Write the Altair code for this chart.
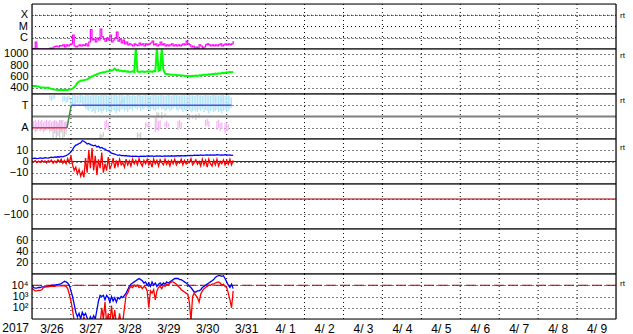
import altair as alt
import pandas as pd

FONT = "Liberation Sans"
W, H = 584, 45

# ---- time axis (hours since 2017-03-26 00:00) ----
DAY_TICKS = [0, 24, 48, 72, 96, 120, 144, 168, 192, 216, 240, 264, 288, 312, 336]
DAY_LABELS = ["3/26", "3/27", "3/28", "3/29", "3/30", "3/31", "4/ 1", "4/ 2",
              "4/ 3", "4/ 4", "4/ 5", "4/ 6", "4/ 7", "4/ 8", "4/ 9"]
YEAR_LABEL = "2017"
HOURS = list(range(125))

# ---- panel 1: X-ray flux (W/m2) ----
XRAY = [1.1e-7, 1.1e-7, 4.2e-7, 1.1e-7, 1.0e-7, 1.0e-7, 1.0e-7, 1.0e-7, 1.0e-7, 1.0e-7,
        1.0e-7, 1.2e-7, 1.0e-7, 1.5e-7, 1.7e-7, 1.85e-7, 1.5e-7, 2.0e-7, 1.85e-7, 2.3e-7,
        1.5e-7, 2.3e-7, 1.85e-7, 2.3e-7, 2.8e-7, 1.75e-6, 1.85e-7, 1.5e-7, 1.85e-7, 2.3e-7,
        1.85e-7, 2.3e-7, 2.0e-7, 2.8e-7, 1.85e-7, 4.2e-7, 5.4e-6, 6.3e-7, 7.7e-7, 4.2e-7,
        9.5e-7, 6.3e-7, 6.0e-6, 1.2e-6, 7.7e-7, 5.1e-7, 9.5e-7, 6.3e-7, 1.75e-6, 4.2e-7,
        6.3e-7, 9.5e-7, 3.2e-6, 5.1e-7, 7.7e-7, 3.4e-7, 6.3e-7, 2.8e-7, 4.2e-7, 2.3e-7,
        2.8e-7, 2.3e-7, 1.85e-7, 2.8e-7, 2.3e-7, 2.0e-7, 3.4e-7, 2.3e-7, 2.8e-7, 1.85e-7,
        2.8e-7, 2.3e-7, 2.8e-7, 3.4e-7, 5.1e-7, 2.3e-7, 2.8e-7, 1.85e-7, 2.3e-7, 4.2e-7,
        2.3e-7, 2.8e-7, 1.85e-7, 2.3e-7, 1.85e-7, 2.3e-7, 2.8e-7, 1.85e-7, 2.3e-7, 1.85e-7,
        2.3e-7, 1.85e-7, 2.3e-7, 2.8e-7, 2.3e-7, 5.1e-7, 2.8e-7, 2.3e-7, 1.5e-7, 1.85e-7,
        1.2e-7, 1.5e-7, 1.2e-7, 2.3e-7, 1.85e-7, 1.2e-7, 1.5e-7, 2.3e-7, 2.8e-7, 2.3e-7,
        1.85e-7, 2.3e-7, 1.85e-7, 2.3e-7, 1.85e-7, 2.3e-7, 2.8e-7, 1.85e-7, 2.3e-7, 2.8e-7,
        2.3e-7, 2.8e-7, 2.3e-7, 2.8e-7, 5.1e-7]
XRAY_TICKS = [1e-4, 1e-5, 1e-6]
XRAY_CLASSES = ["X", "M", "C"]

# ---- panel 2: solar wind speed (km/s) ----
SPEED = [430, 430, 432, 428, 425, 410, 405, 405, 402, 400,
         405, 390, 380, 372, 368, 365, 362, 365, 360, 365,
         362, 365, 362, 368, 375, 385, 410, 440, 490, 510,
         525, 530, 535, 540, 548, 565, 585, 600, 615, 625,
         640, 650, 660, 668, 675, 680, 688, 690, 700, 705,
         715, 740, 710, 720, 700, 705, 690, 700, 685, 690,
         680, 685, 690, 680, 1100, 690, 680, 685, 690, 680,
         685, 690, 685, 690, 680, 695, 690, 1100, 700, 715,
         1100, 720, 650, 645, 640, 635, 630, 632, 628, 625,
         622, 620, 618, 615, 612, 610, 608, 610, 605, 612,
         610, 615, 610, 620, 615, 625, 628, 630, 628, 640,
         635, 645, 640, 650, 645, 655, 650, 660, 665, 660,
         675, 670, 680, 675, 680]
SPEED_TICKS = [1000, 800, 600, 400]

# ---- panel 3: IMF sector (T = +1, A = -1) ----
SECTOR_AWAY_H = [0, 21.6]
SECTOR_AWAY_V = [-1, -1]
SECTOR_TURN_H = [21.6, 24.2]
SECTOR_TURN_V = [-1, 1]
SECTOR_TOW_H = [24.2, 123]
SECTOR_TOW_V = [1, 1]

LB_H = [11, 12, 13, 14, 19, 20, 21, 22, 23] + list(range(24, 124))
LB_LO = [1.5, 1.4, 1.5, 1.6, 1.3, 1.4, 1.2, 1.3, 1.5,
         1.0, 0.9, 0.8, 1.1, 1.2, 1.0, 1.2, 1.1, 0.9, 0.7,
         0.6, 0.5, 0.7, 0.4, 0.5, 0.3, 0.6, 0.4, 0.5, 0.3,
         0.5, 0.6, 0.4, 0.5, 0.3, 0.4, 0.6, 0.5, 0.3, 0.5,
         0.4, 0.6, 0.7, 0.5, 0.6, 0.4, 0.6, 0.7, 0.5, 0.8,
         0.7, 0.6, 0.8, 0.5, 0.7, 0.6, 0.8, 0.7, 0.6, 0.5,
         0.7, 0.6, 0.5, 0.7, 0.6, 0.8, 0.6, 0.7, 0.5, 0.6,
         0.7, 0.5, 0.6, 0.7, 0.8, 0.6, 0.5, 0.7, 0.6, 0.4,
         0.6, 0.5, 0.7, 0.6, 0.4, 0.5, 0.6, 0.5, 0.4, 0.6,
         0.5, 0.7, 0.4, 0.6, 0.5, 0.3, 0.5, 0.6, 0.4, 0.5,
         0.6, 0.4, 0.5, 0.3, 0.5, 0.6, 0.4, 0.5, 0.7, 0.8]
LB_HI = [1.9, 1.85, 1.9, 1.9, 1.8, 1.85, 1.75, 1.8, 1.85,
         1.6, 1.9, 1.95, 1.9, 1.85, 1.9, 1.95, 1.9, 1.8, 1.9,
         1.95, 1.9, 1.85, 1.95, 1.9, 1.9, 1.95, 1.85, 1.9, 1.95,
         1.9, 1.95, 1.9, 1.85, 1.95, 1.9, 1.9, 1.95, 1.9, 1.85,
         1.95, 1.9, 1.9, 1.8, 1.9, 1.95, 1.9, 1.85, 1.9, 1.9,
         1.8, 1.9, 1.95, 1.9, 1.85, 1.9, 1.95, 1.9, 1.9, 1.85,
         1.9, 1.95, 1.9, 1.9, 1.85, 1.95, 1.9, 1.9, 1.8, 1.9,
         1.95, 1.9, 1.85, 1.9, 1.95, 1.9, 1.9, 1.85, 1.9, 1.95,
         1.9, 1.9, 1.85, 1.95, 1.9, 1.9, 1.8, 1.9, 1.95, 1.9,
         1.9, 1.85, 1.9, 1.95, 1.9, 1.9, 1.85, 1.9, 1.95, 1.9,
         1.9, 1.85, 1.9, 1.95, 1.9, 1.85, 1.9, 1.9, 1.8, 1.7]

PK_H = list(range(0, 22)) + [45, 46, 47, 70, 71, 72, 76, 77, 78, 79, 82, 83, 84,
                             90, 91, 92, 107, 108, 109, 114, 115, 116, 117, 119, 120, 121]
PK_LO = [-1.3, -1.2, -1.4, -1.3, -1.1, -1.3, -1.2, -1.4, -1.3, -1.2, -1.1,
         -1.4, -1.3, -1.2, -1.4, -1.3, -1.1, -1.3, -1.4, -1.2, -1.3, -1.1,
         -1.2, -1.0, -1.2, -1.1, -0.9, -1.0, -1.4, -1.2, -1.3, -1.1, -0.9, -1.0, -0.9,
         -1.2, -1.0, -1.1, -0.9, -0.8, -0.9, -1.2, -1.0, -1.3, -1.1, -1.5, -1.3, -1.2]
PK_HI = [-0.3, -0.4, -0.3, -0.5, -0.3, -0.4, -0.3, -0.5, -0.4, -0.3, -0.4,
         -0.3, -0.5, -0.4, -0.3, -0.4, -0.5, -0.3, -0.4, -0.3, -0.5, -0.4,
         -0.4, -0.3, -0.5, -0.5, -0.6, -0.5, -0.1, -0.2, -0.4, -0.3, -0.5, -0.4, -0.6,
         -0.4, -0.3, -0.5, -0.3, -0.2, -0.4, -0.4, -0.3, -0.6, -0.5, -0.6, -0.5, -0.7]

GR_H = [13, 14, 15, 16, 17, 18, 19, 20, 21, 42, 43, 44, 54, 55, 56, 57,
        65, 66, 67, 77, 78, 80, 82, 97, 99, 101, 103, 113, 115, 117]
GR_LO = [-1.9, -1.5, -2.0, -1.7, -1.9, -1.4, -2.0, -1.8, -1.6, -2.0, -1.9, -1.8, 1.1, 1.0, 1.2, 1.1,
         -1.9, -1.8, -1.9, -0.2, -0.1, -0.2, 0.0, -0.3, -0.2, -0.3, -0.1, 1.3, 1.2, 1.3]
GR_HI = [-0.9, -0.4, -1.2, -0.6, -1.0, -0.3, -1.1, -0.8, -0.5, -1.5, -1.6, -1.4, 1.5, 1.4, 1.6, 1.5,
         -1.4, -1.5, -1.4, 0.4, 0.3, 0.4, 0.3, 0.2, 0.1, 0.2, 0.3, 1.7, 1.6, 1.7]

# ---- panel 4: IMF Bt (blue) and Bz (red), nT ----
BT = [2.5, 2.8, 3.0, 2.5, 2.8, 3.2, 3.0, 2.8, 3.5, 3.2,
      3.0, 3.5, 3.8, 3.5, 4.0, 3.8, 4.2, 4.0, 4.5, 4.2,
      4.8, 5.2, 6.0, 7.0, 8.5, 10.5, 13.0, 14.5, 15.0, 16.0,
      16.5, 18.5, 18.0, 17.0, 15.5, 16.0, 15.0, 14.5, 14.0, 14.5,
      13.0, 13.5, 12.0, 12.5, 11.5, 11.0, 10.0, 9.5, 8.5, 7.5,
      7.0, 6.5, 6.0, 5.5, 5.8, 5.2, 5.5, 5.0, 5.3, 4.8,
      5.0, 4.6, 4.8, 4.5, 4.8, 4.6, 4.4, 4.7, 4.5, 4.8,
      4.6, 4.9, 4.5, 4.7, 4.9, 4.6, 4.8, 5.0, 4.7, 4.9,
      4.6, 4.8, 5.0, 4.7, 4.9, 4.8, 5.1, 4.8, 5.0, 4.9,
      5.2, 4.9, 5.1, 5.0, 5.3, 5.1, 5.4, 5.2, 5.5, 5.3,
      5.6, 5.4, 5.6, 5.5, 5.8, 5.5, 5.7, 5.6, 5.9, 5.7,
      5.8, 5.6, 5.9, 5.7, 6.0, 5.8, 5.6, 5.9, 5.7, 6.0,
      5.8, 5.6, 5.9, 5.5, 5.7]
BZ = [0.5, -0.5, 0.8, -1.0, 0.3, -0.8, 1.0, -0.5, 0.5, -1.2,
      0.8, -0.3, 1.2, -1.5, 0.5, -1.0, 1.5, -0.5, 2.0, -1.5,
      1.0, -2.0, 2.5, -1.0, 5.0, -3.0, -8.0, -5.0, -11.0, -7.0,
      -13.0, -9.0, -14.0, 3.0, -10.0, 10.0, -6.0, 12.0, -8.0, 5.0,
      -12.0, 2.0, -6.0, 8.0, -10.0, -2.0, -8.0, 4.0, -7.0, -3.0,
      3.0, -6.0, 1.0, -4.0, 2.0, -3.0, -1.0, -5.0, 2.0, -3.0,
      0.5, -4.0, 2.0, -2.0, 1.0, -3.0, 2.5, -1.5, -4.0, 1.0,
      -2.0, 2.0, -3.0, 0.0, -5.0, 2.0, -2.0, 1.0, -4.0, 1.5,
      -1.0, -3.0, 2.0, -2.5, 0.5, -4.0, 1.0, -2.0, 2.0, -3.0,
      0.0, -1.5, 2.0, -3.0, 1.0, -2.0, 0.5, -1.0, 2.5, -3.0,
      -1.0, 1.5, -2.5, 0.0, -4.0, 2.0, -3.0, 1.0, -5.0, 2.0,
      -2.0, -4.0, 1.0, -3.0, 2.0, -4.0, 0.0, -2.0, 1.5, -3.0,
      1.0, -2.5, 2.0, -3.0, 1.0]
B_TICKS = [10, 0, -10]

# ---- panel 5 / 6: empty panels ----
DST_TICKS = [0, -100]
KP_TICKS = [60, 40, 20]

# ---- panel 7: electron flux, log10 ----
E_BLUE_LOG = [4.0, 3.8, 3.75, 3.75, 3.8, 3.8, 3.85, 3.85, 3.85, 3.9,
              3.9, 3.95, 4.0, 4.0, 4.0, 4.05, 4.05, 4.1, 4.15, 4.25,
              4.35, 4.3, 4.2, 4.0, 3.5, 3.0, 2.3, 1.6, 1.2, 1.5,
              1.0, 1.6, 1.3, 1.5, 1.1, 0.8, 1.2, 0.9, 1.3, 1.0,
              1.8, 2.6, 3.1, 3.0, 3.1, 2.7, 3.1, 2.9, 2.5, 3.0,
              2.6, 2.9, 2.5, 2.9, 2.8, 3.0, 2.9, 3.1, 3.3, 3.6,
              3.9, 4.1, 4.2, 4.3, 4.4, 4.5, 4.6, 4.5, 4.4, 4.2,
              4.3, 4.0, 4.2, 3.9, 4.3, 4.0, 4.2, 3.9, 4.1, 4.2,
              4.0, 4.2, 4.1, 4.3, 4.2, 4.3, 4.4, 4.5, 4.6, 4.6,
              4.6, 4.5, 4.5, 4.4, 4.3, 4.2, 4.1, 3.9, 3.8, 3.6,
              3.4, 3.4, 3.5, 3.5, 3.6, 3.8, 3.9, 4.0, 4.1, 4.2,
              4.3, 4.4, 4.5, 4.7, 4.8, 4.85, 4.85, 4.8, 4.85, 4.6,
              4.3, 4.0, 3.8, 4.1, 3.7]
E_RED_LOG = [3.75, 3.6, 3.5, 3.5, 3.55, 3.55, 3.6, 3.8, 3.85, 3.85,
             3.85, 3.9, 3.9, 3.9, 3.9, 3.95, 3.95, 3.95, 3.95, 3.95,
             3.95, 3.9, 3.7, 3.2, 2.6, 1.8, 0.8, 0.5, 1.0, 0.6,
             0.9, 0.5, 1.2, 0.5, 0.9, 0.5, 0.8, 0.5, 0.9, 0.5,
             0.5, 0.8, 0.5, 2.0, 1.0, 2.5, 0.6, 1.5, 0.5, 2.2,
             0.7, 1.8, 0.6, 0.5, 1.5, 0.5, 0.8, 2.0, 3.1, 3.3,
             3.7, 3.9, 3.8, 4.0, 3.9, 4.0, 3.8, 3.9, 3.7, 3.9,
             3.8, 3.5, 2.0, 3.5, 3.3, 3.6, 2.7, 3.5, 3.8, 3.9,
             3.7, 4.0, 3.9, 4.1, 4.0, 4.2, 4.3, 4.3, 4.2, 4.1,
             3.9, 3.8, 3.6, 3.5, 3.4, 3.3, 3.2, 2.5, 0.8, 3.0,
             3.3, 3.1, 2.9, 2.5, 3.2, 3.5, 3.7, 3.8, 3.9, 4.0,
             4.0, 4.1, 4.1, 4.2, 4.25, 4.3, 4.2, 4.0, 4.1, 3.9,
             3.8, 3.3, 2.7, 2.0, 3.5]
E_THRESHOLD = 1e4
E_TICKS = [1e4, 1e3, 1e2]

# ---------------------------------------------------------------
DARKRED = "#a00000"
LFS = 11
label_js = "[" + ",".join("'%s'" % s for s in DAY_LABELS) + "][round(datum.value/24)]"


def xenc(show=False):
    if show:
        ax = alt.Axis(values=DAY_TICKS, labelExpr=label_js, labelOffset=19.5, ticks=False,
                      domain=False, grid=False, labelFlush=False, labelOverlap=False,
                      labelPadding=4, labelFont=FONT, labelFontSize=12, labelColor="black",
                      title=None)
    else:
        ax = None
    return alt.X("h:Q", scale=alt.Scale(domain=[0, 360], nice=False, zero=False), axis=ax)


def yenc(domain, ticks, expr=None, log=False, field="v", labels=True):
    sc = alt.Scale(domain=domain, nice=False, zero=False, type="log" if log else "linear")
    kw = dict(values=ticks, ticks=False, domain=False, grid=True, gridDash=[1, 3],
              gridColor="black", gridOpacity=1, labelPadding=4, labelFont=FONT,
              labelFontSize=LFS, labelColor="black", title=None, minExtent=30, maxExtent=30,
              labelOverlap=False, labelFlush=False, labelBound=False, format="d",
              tickCount=20, labels=labels)
    if expr:
        kw["labelExpr"] = expr
    return alt.Y(field + ":Q", scale=sc, axis=alt.Axis(**kw))


def vgrid(show=False):
    return alt.Chart(pd.DataFrame({"h": DAY_TICKS[1:]})).mark_rule(
        color="black", strokeDash=[1, 3], strokeWidth=1).encode(x=xenc(show))


def frame():
    one = pd.DataFrame({"k": [0]})
    st = dict(color="black", strokeWidth=1.2)
    return [
        alt.Chart(one).mark_rule(**st).encode(x=alt.value(0), x2=alt.value(W), y=alt.value(0)),
        alt.Chart(one).mark_rule(**st).encode(x=alt.value(0), x2=alt.value(W), y=alt.value(H)),
        alt.Chart(one).mark_rule(**st).encode(x=alt.value(0), y=alt.value(0), y2=alt.value(H)),
        alt.Chart(one).mark_rule(**st).encode(x=alt.value(W), y=alt.value(0), y2=alt.value(H)),
    ]


def rt(ypix):
    return alt.Chart(pd.DataFrame({"t": ["rt"]})).mark_text(
        align="left", baseline="middle", font=FONT, fontSize=8, color="black").encode(
        x=alt.value(W + 4), y=alt.value(ypix), text="t:N")


def hline(Y, val, color, dash=None, width=1):
    kw = dict(color=color, strokeWidth=width)
    if dash:
        kw["strokeDash"] = dash
    return alt.Chart(pd.DataFrame({"v": [val]})).mark_rule(**kw).encode(y=Y)


# panel 1 (class letters as text marks on the log scale)
Y1 = yenc([1e-7, 1e-3], XRAY_TICKS, log=True, labels=False)
p1 = alt.layer(
    vgrid(),
    alt.Chart(pd.DataFrame({"v": XRAY_TICKS})).mark_rule(
        color="black", strokeDash=[1, 3], strokeWidth=1).encode(y=Y1),
    alt.Chart(pd.DataFrame({"h": HOURS, "v": XRAY})).mark_line(
        color="#ff00ff", strokeWidth=1.2, interpolate="step-after", clip=True).encode(x=xenc(), y=Y1),
    alt.Chart(pd.DataFrame({"v": XRAY_TICKS, "t": XRAY_CLASSES})).mark_text(
        align="right", baseline="middle", font=FONT, fontSize=LFS, color="black").encode(
        x=alt.value(-4), y=Y1, text="t:N"),
    *frame(),
    rt(12),
).properties(width=W, height=H)

# panel 2
Y2 = yenc([290, 1085], SPEED_TICKS)
p2 = alt.layer(
    vgrid(),
    alt.Chart(pd.DataFrame({"h": HOURS, "v": SPEED})).mark_line(
        color="#00ff00", strokeWidth=2, clip=True).encode(x=xenc(), y=Y2),
    *frame(),
    rt(7),
).properties(width=W, height=H)

# panel 3
Y3 = yenc([-2, 2], [1, -1], "datum.value > 0 ? 'T' : 'A'")


def cloud(hs, lo, hi, color):
    return alt.Chart(pd.DataFrame({"h": hs, "v": lo, "v2": hi})).mark_rule(
        color=color, strokeWidth=1.2, clip=True).encode(x=xenc(), y=Y3, y2="v2:Q")


def seg(hs, vs, color):
    return alt.Chart(pd.DataFrame({"h": hs, "v": vs})).mark_line(
        color=color, strokeWidth=1.5).encode(x=xenc(), y=Y3)


p3 = alt.layer(
    vgrid(),
    cloud(GR_H, GR_LO, GR_HI, "#cccccc"),
    cloud(PK_H, PK_LO, PK_HI, "#f4b4f4"),
    cloud(LB_H, LB_LO, LB_HI, "#b0e4f8"),
    hline(Y3, 0, "#808080", width=2),
    seg(SECTOR_AWAY_H, SECTOR_AWAY_V, "#e04040"),
    seg(SECTOR_TURN_H, SECTOR_TURN_V, "#408c40"),
    seg(SECTOR_TOW_H, SECTOR_TOW_V, "#5050e0"),
    *frame(),
    rt(7),
).properties(width=W, height=H)

# panel 4
Y4 = yenc([-20, 20], B_TICKS)
p4 = alt.layer(
    vgrid(),
    hline(Y4, 0, DARKRED),
    alt.Chart(pd.DataFrame({"h": HOURS, "v": BT})).mark_line(
        color="#0000ff", strokeWidth=1.3, clip=True).encode(x=xenc(), y=Y4),
    alt.Chart(pd.DataFrame({"h": HOURS, "v": BZ})).mark_line(
        color="#ff0000", strokeWidth=1.3, clip=True).encode(x=xenc(), y=Y4),
    *frame(),
    rt(8.5),
).properties(width=W, height=H)

# panel 5
Y5 = yenc([-200, 100], DST_TICKS)
p5 = alt.layer(
    vgrid(),
    hline(Y5, 0, DARKRED),
    *frame(),
).properties(width=W, height=H)

# panel 6
Y6 = yenc([0, 80], KP_TICKS)
p6 = alt.layer(
    vgrid(),
    hline(Y6, 20, "black", dash=[1, 3], width=0.01),
    *frame(),
).properties(width=W, height=H)

# panel 7
Y7 = yenc([10, 1e5], E_TICKS,
          "datum.value > 5000 ? '10\u2074' : datum.value > 500 ? '10\u00b3' : '10\u00b2'", log=True)
eb = [10 ** v for v in E_BLUE_LOG]
er = [10 ** v for v in E_RED_LOG]
p7 = alt.layer(
    vgrid(True),
    hline(Y7, E_THRESHOLD, DARKRED, dash=[10, 4]),
    alt.Chart(pd.DataFrame({"h": HOURS, "v": eb})).mark_line(
        color="#0000ff", strokeWidth=1.3, clip=True).encode(x=xenc(True), y=Y7),
    alt.Chart(pd.DataFrame({"h": HOURS, "v": er})).mark_line(
        color="#ff0000", strokeWidth=1.3, clip=True).encode(x=xenc(True), y=Y7),
    *frame(),
    rt(9.7),
    alt.Chart(pd.DataFrame({"t": [YEAR_LABEL]})).mark_text(
        align="right", baseline="top", font=FONT, fontSize=12, color="black").encode(
        x=alt.value(-3), y=alt.value(H + 4), text="t:N"),
).properties(width=W, height=H)

chart = alt.vconcat(p1, p2, p3, p4, p5, p6, p7, spacing=0, bounds="flush").configure_view(
    stroke="black", strokeWidth=1).configure(
    background="white", padding={"left": 1, "top": 2, "right": 5, "bottom": 5})

chart.save("out.html", embed_options={"renderer": "svg", "actions": False})
